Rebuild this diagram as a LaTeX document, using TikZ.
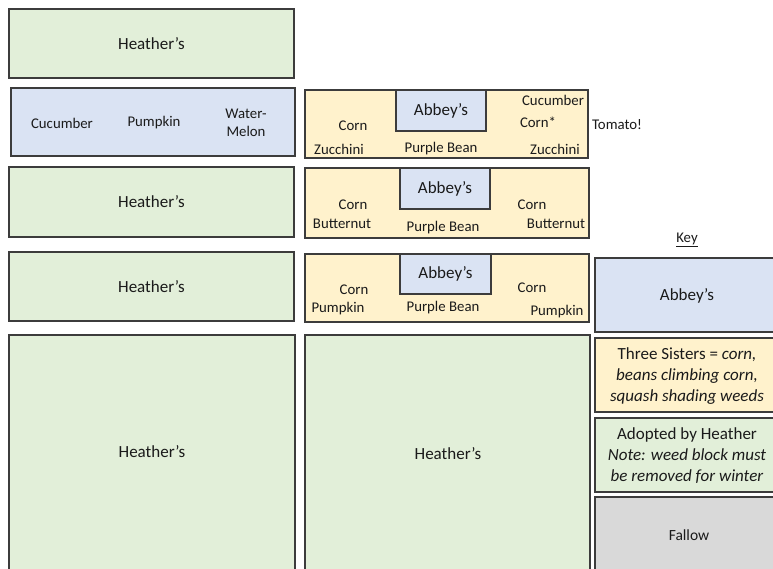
\documentclass[tikz,border=0pt]{standalone}
\usepackage{fontspec}
\setmainfont{Carlito}
\begin{document}
\begin{tikzpicture}[x=1pt,y=-1pt,
  every node/.style={font=\fontsize{14.8}{17.5}\selectfont, text=txt, inner sep=0pt},
  big/.style={font=\fontsize{17}{21}\selectfont},
  plot/.style={draw=edge, line width=1.8pt, rectangle, inner sep=0pt, anchor=center},
  green/.style={plot, fill=grn},
  blue/.style={plot, fill=blu},
  yel/.style={plot, fill=yl},
  gry/.style={plot, fill=gr},
  lbl/.style={align=center}]
\definecolor{edge}{HTML}{3C3C3C}
\definecolor{txt}{HTML}{1A1A1A}
\definecolor{grn}{HTML}{E2EFD9}
\definecolor{blu}{HTML}{DAE3F3}
\definecolor{yl}{HTML}{FFF2CC}
\definecolor{gr}{HTML}{D9D9D9}
\useasboundingbox (0,0) rectangle (773,569);
\fill[white] (0,0) rectangle (773,569);
\begin{scope}
\clip (0,0) rectangle (773,569);
% left column
\node[green, big, minimum width=285, minimum height=69] (h1) at (151.5,43.5) {Heather’s};
\node[blue, minimum width=284, minimum height=68] (b1) at (153,122) {};
\node (b1a) at (62,123) {Cucumber};
\node (b1b) at (154,123) {Pumpkin};
\node[lbl] (b1c) at (246,123) {Water-\\Melon};
\node[green, big, minimum width=285, minimum height=70] (h2) at (151.5,202) {Heather’s};
\node[green, big, minimum width=285, minimum height=69] (h3) at (151.5,286.5) {Heather’s};
\node[green, big, minimum width=286, minimum height=245] (h4) at (152,457.5) {};
\node[big] (h4t) at (152,452) {Heather’s};
% middle column
\node[yel, minimum width=283, minimum height=68] (y1) at (446.5,124) {};
\node[blue, big, minimum width=90, minimum height=41] (a1) at (441,110.5) {Abbey’s};
\node (y1a) at (353,126) {Corn};
\node (y1b) at (339,149) {Zucchini};
\node (y1c) at (441,149) {Purple Bean};
\node (y1d) at (553,100) {Cucumber};
\node (y1e) at (538,122) {Corn*};
\node (y1f) at (555,149) {Zucchini};
\node (tom) at (617,125) {Tomato!};
\node[yel, minimum width=284, minimum height=70] (y2) at (447,203) {};
\node[blue, big, minimum width=90, minimum height=41] (a2) at (445,188.5) {Abbey’s};
\node (y2a) at (353,205) {Corn};
\node (y2b) at (342,224) {Butternut};
\node (y2c) at (443,228) {Purple Bean};
\node (y2d) at (532,205) {Corn};
\node (y2e) at (556,224) {Butternut};
\node[yel, minimum width=284, minimum height=68] (y3) at (447,288) {};
\node[blue, big, minimum width=91, minimum height=40] (a3) at (445.5,274) {Abbey’s};
\node (y3a) at (354,290) {Corn};
\node (y3b) at (338,309) {Pumpkin};
\node (y3c) at (443,308) {Purple Bean};
\node (y3d) at (532,288) {Corn};
\node (y3e) at (557,312) {Pumpkin};
\node[green, minimum width=285, minimum height=245] (h5) at (447.5,457.5) {};
\node[big] (h5t) at (448,454) {Heather’s};
% key
\node (key) at (687,240) {\underline{Key}};
\node[blue, minimum width=185, minimum height=74] (k1) at (687.5,295) {};
\node[big] (k1t) at (687,296) {Abbey’s};
\node[yel, minimum width=185, minimum height=74] (k2) at (687.5,375) {};
\node[big, lbl] (k2t) at (687,376) {Three Sisters = \textit{corn,}\\\textit{beans climbing corn,}\\\textit{squash shading weeds}};
\node[green, minimum width=185, minimum height=74] (k3) at (687.5,455) {};
\node[big, lbl] (k3t) at (687,456) {Adopted by Heather\\\textit{Note: weed block must}\\\textit{be removed for winter}};
\node[gry, minimum width=185, minimum height=83] (k4) at (687.5,538.5) {};
\node[font=\fontsize{15.5}{18}\selectfont] (k4t) at (689,535) {Fallow};
\end{scope}
\end{tikzpicture}
\end{document}
